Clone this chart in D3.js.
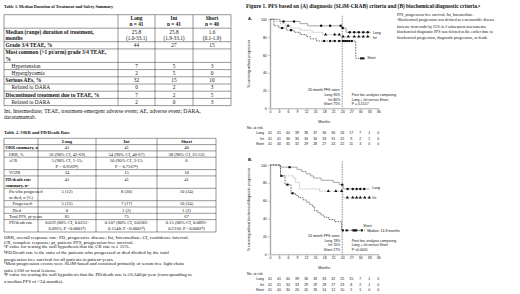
<!DOCTYPE html>
<html>
<head>
<meta charset="utf-8">
<script src="https://cdn.jsdelivr.net/npm/d3@7"></script>
<style>
  body { margin: 0; background: #fff; }
  svg text { font-family: "Liberation Serif", "Times New Roman", serif; fill: #111; }
  .fig text { font-family: "Liberation Sans", Arial, sans-serif; }
</style>
</head>
<body>
<svg id="poster" width="520" height="294"></svg>
<script>
// ---------- data ----------
const arms = ["Long", "Int", "Short"]
const tickMonths = [0, 3, 6, 9, 12, 15, 18, 21, 24, 27, 30, 33, 36]
const tickPct = [0, 20, 40, 60, 80, 100]

// KM step points [month, % surviving] and censor times, panel A (SLiM-CRAB)
const kmA_long = [[0,100],[3.3,97.6],[10,95.1],[12.5,92.7],[23.8,90.2],[25.3,85.4],[33.5,85.4]]
const kmA_int = [[0,100],[2,97.6],[3.5,95.1],[5,92.7],[7,90.2],[10,87.8],[14,85.4],[17.5,82.9],[23.5,80.5],[33.5,80.5]]
const kmA_short = [[0,100],[1.3,92.7],[3,90.2],[5.5,87.8],[8,85.4],[10,82.9],[12,80.5],[13.5,78],[15.5,75.6],[28.5,56.1],[31.5,56.1]]
const censA_long = [4.5, 8, 17, 20, 23.5, 24.2, 26.5, 28, 29.5, 31, 32.5]
const censA_int = [6, 18.5, 21.5, 23, 24.3, 26, 28, 29.5, 31, 32.5]
const censA_short = [4, 7, 18, 20, 21.5, 23, 24.3, 25, 25.7, 26.4, 27.2, 30.3, 31]

// panel B (biochemical/diagnostic)
const kmB_long = [[0,100],[3.3,97.6],[9,95.1],[10.5,92.7],[12,90.2],[13.5,87.8],[14.5,85.4],[17,82.9],[21,80.5],[23,78],[24.3,73.2],[33,73.2]]
const kmB_int = [[0,100],[3.5,87.8],[7.8,85.4],[8.5,80.5],[9.8,73.2],[16.5,70.7],[24.3,63.4],[33.5,63.4]]
const kmB_short = [[0,100],[3.5,87.8],[5,78],[7,68.3],[8.5,65.9],[9.5,63.4],[11,61],[12,58.5],[13,56.1],[14,53.7],[14.8,48.8],[16,46.3],[17,43.9],[18,41.5],[19.5,39],[21.5,36.6],[23.8,26.8],[31.5,26.8]]
const censB_long = [6.5, 24, 25.8, 27.5, 28.8, 30, 31.3]
const censB_int = [19.4, 21.9, 23.8, 25.7, 27.5, 28.8, 30, 31.5, 33]
const censB_short = [3.8, 5.8, 7.5, 24.2, 25.5, 27.7, 28.2, 28.7, 30.5]

// numbers at risk
const riskA_long = [41, 41, 40, 39, 38, 37, 36, 36, 26, 17, 7, 1, 0]
const riskA_int = [41, 41, 36, 36, 34, 34, 33, 31, 25, 9, 2, 1, 0]
const riskA_short = [41, 40, 35, 32, 29, 28, 27, 24, 22, 11, 3, 0, 0]
const riskB_long = [41, 41, 40, 39, 36, 33, 33, 32, 25, 15, 7, 1, 0]
const riskB_int = [41, 41, 34, 33, 29, 29, 28, 27, 23, 8, 2, 1, 0]
const riskB_short = [41, 40, 30, 26, 20, 18, 14, 12, 10, 5, 1, 0, 0]

const ratesA = ["24-month PFS rates:", "Long 90%", "Int 80%", "Short 75%"]
const ratesB = ["24 month PFS rates:", "Long 78%", "Int 70%", "Short 27%"]
const posthocA = ["Post hoc analysis comparing", "Long + Int versus Short,", "P = 0.1517"]
const posthocB = ["Post hoc analysis comparing", "Long + Int versus Short", "P <0.0001"]

// Table 1
const t1Head = ["", "Long\nn = 41", "Int\nn = 41", "Short\nn = 40"]
const t1Rows = [
  ["Median (range) duration of treatment,\nmonths", "25.8\n(1.0-33.1)", "25.8\n(1.9-33.1)", "1.6\n(0.1-1.9)"],
  ["Grade 3/4 TEAE, %", "44", "27", "15"],
  ["Most common (>1 pt/arm) grade 3/4 TEAE,\n%", "", "", ""],
  ["Hypertension", "7", "5", "3"],
  ["Hyperglycemia", "2", "5", "0"],
  ["Serious AEs, %", "32", "15", "10"],
  ["Related to DARA", "0", "2", "3"],
  ["Discontinued treatment due to TEAE, %", "7", "2", "5"],
  ["Related to DARA", "2", "0", "3"]
]
const t1Bold = [true, true, true, false, false, true, false, true, false]
const t1Indent = [0, 0, 0, 1, 1, 0, 1, 0, 1]
const t1Notes = ["Int, Intermediate; TEAE, treatment-emergent adverse event; AE, adverse event; DARA,", "daratumumab."]

// Table 2
const t2Head = ["", "Long", "Int", "Short"]
const t2Rows = [
  ["ORR summary, n", "41", "41", "40"],
  ["ORR, %", "56 (90% CI, 42-69)", "54 (90% CI, 40-67)", "38 (90% CI, 25-52)"],
  ["≥CR", "5 (90% CI, 1-15;\nP = 0.9569^a)", "10 (90% CI, 3-21;\nP = 0.7567^a)", "0"],
  ["VGPR", "24", "15", "18"],
  ["PD/death rate\nsummary, n^b", "41", "41", "41"],
  ["Pts who progressed\nor died, n (%)", "5 (12)", "8 (20)", "10 (24)"],
  ["Progressed^c", "5 (12)", "7 (17)", "10 (24)"],
  ["Died", "0", "1 (2)", "1 (2)"],
  ["Total PFS, pt-years", "85", "75", "67"],
  ["PD/death rate", "0.059 (80% CI, 0.0251-\n0.0925; P <0.0001^d)", "0.107 (80% CI, 0.0583-\n0.1548; P <0.0001^d)", "0.15 (80% CI, 0.0893-\n0.2110; P <0.0001^d)"]
]
const t2Bold = [true, false, false, false, true, false, false, false, false, false]
const t2Indent = [0, 1, 1, 1, 0, 1, 2, 2, 1, 1]
const t2Notes = [
  "ORR, overall response rate; PD, progressive disease; Int, Intermediate; CI, confidence interval;",
  "CR, complete response; pt, patient; PFS, progression-free survival.",
  "^aP value for testing the null hypothesis that the CR rate is ≤ 15%.",
  "^bPD/Death rate is the ratio of the patients who progressed or died divided by the total",
  "progression free survival for all patients in patient-years.",
  "^cMost progression events were SLiM-based and consisted primarily of serum free light chain",
  "ratio ≥100 or focal lesions.",
  "^dP value for testing the null hypothesis that the PD/death rate is ≥0.346/pt-year (corresponding to",
  "a median PFS of <24 months)."
]

const figNotes = [
  "PFS, progression-free survival; Int, Intermediate.",
  "^aBiochemical progression was defined as a measurable disease",
  "increase from nadir by 25% in 2 subsequent assessments;",
  "biochemical diagnostic PFS was defined as the earlier time to",
  "biochemical progression, diagnostic progression, or death."
]

// ---------- helpers ----------
const svg = d3.select('#poster')

function richText(sel, str, fs) {
  let up = false
  str.split(/(\^[a-z])/).forEach(p => {
    if (!p) return
    if (p[0] === '^') {
      sel.append('tspan').attr('dy', -fs * 0.22).attr('font-size', fs * 0.65).text(p.slice(1))
      up = true
    } else {
      let t = sel.append('tspan').text(p)
      if (up) { t.attr('dy', fs * 0.22); up = false }
    }
  })
}

function drawTable(g, cfg) {
  let rows = [{cells: cfg.head, bold: false, head: true, indent: 0}]
    .concat(cfg.rows.map((r, i) => ({cells: r, bold: cfg.bold[i], indent: cfg.indent[i]})))
  let y = cfg.top
  let bounds = [y]
  rows.forEach(r => {
    let n = d3.max(r.cells, c => c.split('\n').length)
    r.y0 = y
    y += n * cfg.lineH + cfg.pad
    bounds.push(y)
  })
  g.selectAll('line.h').data(bounds).join('line').attr('class', 'h')
    .attr('x1', cfg.cols[0]).attr('x2', cfg.cols[cfg.cols.length - 1])
    .attr('y1', d => d).attr('y2', d => d)
    .attr('stroke', '#333').attr('stroke-width', 0.5)
  g.selectAll('line.v').data(cfg.cols).join('line').attr('class', 'v')
    .attr('x1', d => d).attr('x2', d => d)
    .attr('y1', cfg.top).attr('y2', y)
    .attr('stroke', '#333').attr('stroke-width', 0.5)
  rows.forEach(r => {
    r.cells.forEach((c, i) => {
      c.split('\n').forEach((ln, k) => {
        let fs = i === 0 ? cfg.labelFs : cfg.fs
        let t = g.append('text').attr('font-size', fs)
          .attr('y', r.y0 + cfg.pad / 2 + cfg.lineH * (k + 0.5)).attr('dy', '0.35em')
        if (i === 0) {
          t.attr('x', cfg.cols[0] + 1.5 + r.indent * cfg.indentW)
        } else {
          t.attr('x', (cfg.cols[i] + cfg.cols[i + 1]) / 2).attr('text-anchor', 'middle')
        }
        if ((r.bold && i === 0) || r.head) t.attr('font-weight', 'bold')
        richText(t, ln, fs)
      })
    })
  })
}

function stepValue(pts, m) {
  let v = pts[0][1]
  pts.forEach(p => { if (p[0] <= m) v = p[1] })
  return v
}

// ---------- tables ----------
svg.append('text').attr('x', 4).attr('y', 7).attr('dy', '0.35em')
  .attr('font-size', 4.2).attr('font-weight', 'bold')
  .text('Table 1. Median Duration of Treatment and Safety Summary')

drawTable(svg.append('g'), {
  cols: [4, 118, 155, 193, 231], top: 14.7, lineH: 6.3, pad: 0.9, fs: 5.3, labelFs: 5.4, indentW: 6,
  head: t1Head, rows: t1Rows, bold: t1Bold, indent: t1Indent
})

svg.append('g').selectAll('text').data(t1Notes).join('text')
  .attr('x', 4).attr('y', (d, i) => 111.3 + i * 5.7).attr('dy', '0.35em')
  .attr('font-size', 5.6).text(d => d)

svg.append('text').attr('x', 4).attr('y', 132.7).attr('dy', '0.35em')
  .attr('font-size', 4.6).attr('font-weight', 'bold')
  .text('Table 2. ORR and PD/Death Rate')

drawTable(svg.append('g'), {
  cols: [4, 38, 96, 157, 216], top: 138.3, lineH: 6.1, pad: 0.2, fs: 4.6, labelFs: 4.3, indentW: 3.5,
  head: t2Head, rows: t2Rows, bold: t2Bold, indent: t2Indent
})

svg.append('g').selectAll('text').data(t2Notes).join('text')
  .attr('x', 4).attr('y', (d, i) => 237.3 + i * 5.5).attr('dy', '0.35em')
  .attr('font-size', 4.85)
  .each(function (d) { richText(d3.select(this), d, 4.85) })

// ---------- figure ----------
let titleT = svg.append('text').attr('x', 246).attr('y', 6.5).attr('dy', '0.35em')
  .attr('font-size', 5.4).attr('font-weight', 'bold')
richText(titleT, 'Figure 1. PFS based on (A) diagnostic (SLiM-CRAB) criteria and (B) biochemical/diagnostic criteria.^a', 5.4)

svg.append('g').selectAll('text').data(figNotes).join('text')
  .attr('x', 397).attr('y', (d, i) => 15 + i * 5.7).attr('dy', '0.35em')
  .attr('font-size', 3.9)
  .each(function (d) { richText(d3.select(this), d, 3.9) })

const armStyle = {
  Long:  {stroke: '#9b9b9b', dash: null, width: 0.9, sym: d3.symbolCircle},
  Int:   {stroke: '#a8a8a8', dash: '0.8,0.8', width: 0.9, sym: d3.symbolTriangle},
  Short: {stroke: '#4a4a4a', dash: '1.6,1.1', width: 0.8, sym: d3.symbolSquare}
}

function drawKM(cfg) {
  let g = svg.append('g').attr('class', 'fig')
  let x = d3.scaleLinear().domain([0, 36]).range([270, 378.3])
  let y = d3.scaleLinear().domain([0, 100]).range([cfg.bottom, cfg.top])

  g.append('text').attr('x', 248).attr('y', cfg.letterY).attr('dy', '0.35em')
    .attr('font-size', 4.2).attr('font-weight', 'bold').text(cfg.letter)

  let xAx = g.append('g').attr('transform', 'translate(0,' + cfg.bottom + ')')
    .call(d3.axisBottom(x).tickValues(tickMonths).tickSize(1.5).tickSizeOuter(0).tickPadding(1))
  let yAx = g.append('g').attr('transform', 'translate(270,0)')
    .call(d3.axisLeft(y).tickValues(tickPct).tickSize(2).tickSizeOuter(0).tickPadding(1.2))
  ;[xAx, yAx].forEach(a => {
    a.selectAll('text').attr('font-size', 3.5).attr('font-family', '"Liberation Sans", Arial, sans-serif').attr('fill', '#222')
    a.selectAll('line').attr('stroke', '#888').attr('stroke-width', 0.5)
  })
  xAx.select('.domain').attr('stroke', '#aaa').attr('stroke-width', 1)
  yAx.select('.domain').attr('stroke', '#aaa').attr('stroke-width', 1.4)

  g.append('text').attr('transform', 'translate(250,' + ((cfg.top + cfg.bottom) / 2) + ') rotate(-90)')
    .attr('text-anchor', 'middle').attr('font-size', 3.4).text(cfg.ylabel)
  g.append('text').attr('x', x(18)).attr('y', cfg.bottom + 13.4).attr('dy', '0.35em')
    .attr('text-anchor', 'middle').attr('font-size', 3.6).text('Months')

  // 24-month reference line
  g.append('line').attr('x1', x(24)).attr('x2', x(24)).attr('y1', y(104)).attr('y2', y(0))
    .attr('stroke', '#333').attr('stroke-width', 0.6).attr('stroke-dasharray', '1.4,1.1')

  let line = d3.line().curve(d3.curveStepAfter).x(d => x(d[0])).y(d => y(d[1]))
  arms.forEach(a => {
    let st = armStyle[a]
    g.append('path').attr('d', line(cfg.km[a])).attr('fill', 'none')
      .attr('stroke', st.stroke).attr('stroke-width', st.width)
      .attr('stroke-dasharray', st.dash)
  })
  arms.forEach(a => {
    g.append('g').selectAll('path').data(cfg.cens[a]).join('path')
      .attr('d', d3.symbol().type(armStyle[a].sym).size(4.5))
      .attr('transform', d => 'translate(' + x(d) + ',' + y(stepValue(cfg.km[a], d)) + ')')
      .attr('fill', '#111')
  })

  // curve end labels
  cfg.labels.forEach(l => {
    g.append('text').attr('x', x(l.m)).attr('y', y(l.v)).attr('dy', '0.35em')
      .attr('font-size', 3.5).text(l.text)
  })

  // rate and post hoc notes
  g.append('g').selectAll('text').data(cfg.rates).join('text')
    .attr('x', x(24) - 2).attr('y', (d, i) => y(cfg.noteTop) + i * 4.7).attr('dy', '0.35em')
    .attr('text-anchor', 'end').attr('font-size', 3.5).text(d => d)
  g.append('g').selectAll('text').data(cfg.posthoc).join('text')
    .attr('x', x(24) + 9.5).attr('y', (d, i) => y(cfg.noteTop) + (i + 1) * 4.7).attr('dy', '0.35em')
    .attr('font-size', 3.5).text(d => d)

  // numbers at risk
  let rt = cfg.bottom + 19
  g.append('text').attr('x', 247).attr('y', rt).attr('dy', '0.35em').attr('font-size', 3.5).text('No. at risk')
  arms.forEach((a, j) => {
    let ry = rt + (j + 1) * 5.65
    g.append('text').attr('x', 264).attr('y', ry).attr('dy', '0.35em')
      .attr('text-anchor', 'end').attr('font-size', 3.5).text(a)
    g.append('g').selectAll('text').data(cfg.risk[a]).join('text')
      .attr('x', (d, i) => x(tickMonths[i])).attr('y', ry).attr('dy', '0.35em')
      .attr('text-anchor', 'middle').attr('font-size', 3.5).text(d => d)
  })
}

drawKM({
  letter: 'A.', letterY: 18.5, top: 19.3, bottom: 108.3,
  ylabel: '% surviving without progression',
  km: {Long: kmA_long, Int: kmA_int, Short: kmA_short},
  cens: {Long: censA_long, Int: censA_int, Short: censA_short},
  risk: {Long: riskA_long, Int: riskA_int, Short: riskA_short},
  rates: ratesA, posthoc: posthocA, noteTop: 20.5,
  labels: [{text: 'Long', m: 34.2, v: 85.4}, {text: 'Int', m: 34.2, v: 79.5}, {text: 'Short', m: 32.3, v: 57}]
})

drawKM({
  letter: 'B.', letterY: 160, top: 165, bottom: 254.3,
  ylabel: '% surviving without biochemical/diagnostic progression',
  km: {Long: kmB_long, Int: kmB_int, Short: kmB_short},
  cens: {Long: censB_long, Int: censB_int, Short: censB_short},
  risk: {Long: riskB_long, Int: riskB_int, Short: riskB_short},
  rates: ratesB, posthoc: posthocB, noteTop: 20.8,
  labels: [{text: 'Long', m: 34, v: 74}, {text: 'Int', m: 34, v: 63}, {text: 'Short', m: 31, v: 32.2},
           {text: 'Median: 14.8 months', m: 32.3, v: 26.6}]
})
</script>
</body>
</html>
